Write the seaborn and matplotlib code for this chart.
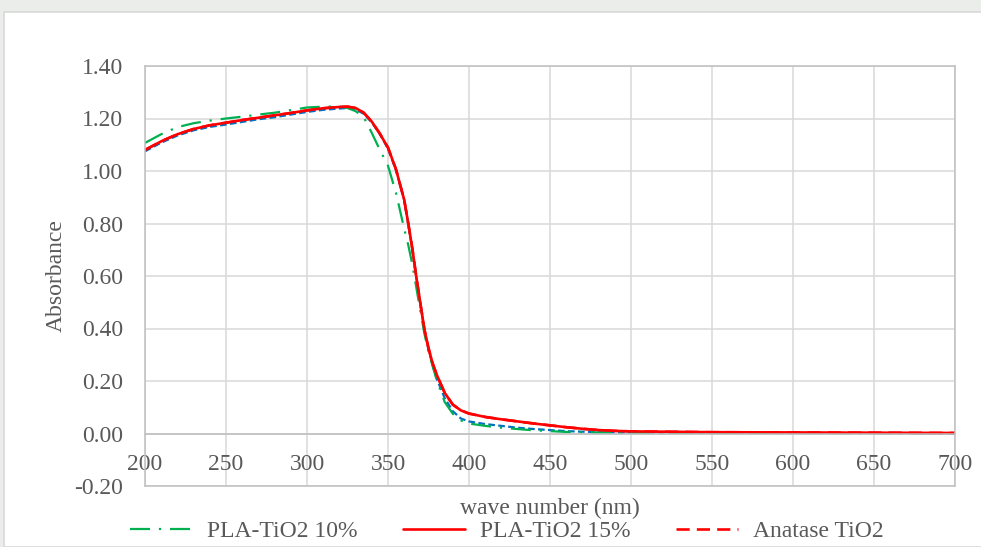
import pandas as pd
import matplotlib.pyplot as plt
import seaborn as sns
from matplotlib.patches import Rectangle
from matplotlib.lines import Line2D

# wavelength grid (nm) shared by all curves
wavelength = [200, 210, 220, 230, 240, 250, 260, 270, 280, 290, 300, 310, 320,
              325, 330, 335, 340, 345, 350, 355, 360,
              362.5, 365, 367.5, 370, 372.5, 375, 377.5, 380,
              385, 390, 395, 400,
              410, 420, 430, 440, 450, 460, 470, 480, 490, 500,
              550, 600, 650, 700]

pla_10 = [1.107, 1.140, 1.167, 1.182, 1.192, 1.200, 1.207, 1.215, 1.222, 1.232, 1.242, 1.245, 1.246,
          1.240, 1.228, 1.205, 1.145, 1.080, 1.020, 0.915, 0.780,
          0.718, 0.645, 0.555, 0.466, 0.380, 0.310, 0.258, 0.205,
          0.120, 0.075, 0.050, 0.038,
          0.029, 0.022, 0.017, 0.012, 0.009, 0.006, 0.005, 0.004, 0.003, 0.003,
          0.002, 0.002, 0.001, 0.001]

pla_15 = [1.080, 1.113, 1.140, 1.160, 1.174, 1.184, 1.194, 1.203, 1.212, 1.221, 1.231, 1.239, 1.244,
          1.245, 1.240, 1.222, 1.188, 1.142, 1.089, 1.005, 0.890,
          0.800, 0.705, 0.595, 0.495, 0.395, 0.325, 0.268, 0.225,
          0.155, 0.110, 0.088, 0.076,
          0.063, 0.054, 0.046, 0.038, 0.031, 0.024, 0.018, 0.013, 0.010, 0.008,
          0.005, 0.004, 0.003, 0.002]

anatase = [1.080, 1.113, 1.140, 1.160, 1.174, 1.184, 1.194, 1.203, 1.212, 1.221, 1.231, 1.239, 1.244,
           1.245, 1.240, 1.222, 1.188, 1.142, 1.089, 1.005, 0.890,
           0.800, 0.705, 0.595, 0.495, 0.395, 0.325, 0.268, 0.225,
           0.155, 0.110, 0.088, 0.076,
           0.063, 0.054, 0.046, 0.038, 0.031, 0.024, 0.018, 0.013, 0.010, 0.008,
           0.005, 0.004, 0.003, 0.002]

# fourth (blue dashed) curve, not shown in the legend
pla_5 = [1.075, 1.108, 1.135, 1.155, 1.168, 1.177, 1.187, 1.197, 1.205, 1.215, 1.225, 1.233, 1.238,
         1.240, 1.235, 1.218, 1.185, 1.140, 1.085, 1.002, 0.890,
         0.800, 0.700, 0.595, 0.490, 0.395, 0.320, 0.260, 0.210,
         0.135, 0.085, 0.057, 0.046,
         0.036, 0.029, 0.022, 0.017, 0.013, 0.009, 0.007, 0.005, 0.004, 0.004,
         0.003, 0.002, 0.002, 0.001]

x_ticks = [200, 250, 300, 350, 400, 450, 500, 550, 600, 650, 700]
y_ticks = [-0.2, 0.0, 0.2, 0.4, 0.6, 0.8, 1.0, 1.2, 1.4]

df = pd.DataFrame({'wavelength': wavelength, 'pla_10': pla_10, 'pla_15': pla_15,
                   'anatase': anatase, 'pla_5': pla_5})

sns.set_theme(style='white')
plt.rcParams['font.family'] = ['Liberation Serif', 'DejaVu Serif']
plt.rcParams['axes.unicode_minus'] = False

txt = '#595959'
fs = 17

fig = plt.figure(figsize=(9.81, 5.47), dpi=100, facecolor='#EBEDEB')
fig.patches.append(Rectangle((4 / 981, 0), 1, 1 - 12 / 547, transform=fig.transFigure,
                             facecolor='white', edgecolor='#D9D9D9', linewidth=1.2, zorder=-5))
ax = fig.add_axes([145 / 981, 1 - 486 / 547, 810 / 981, 420 / 547])
ax.set_facecolor('none')

lw = 1.6
red_dash = (5, 2.7)
green_dash = (9, 4, 1, 4)
sns.lineplot(data=df, x='wavelength', y='anatase', ax=ax, color='#FF0000', lw=1.9,
             estimator=None, sort=False)
sns.lineplot(data=df, x='wavelength', y='pla_5', ax=ax, color='#0070C0', lw=lw,
             estimator=None, sort=False)
sns.lineplot(data=df, x='wavelength', y='pla_10', ax=ax, color='#00B050', lw=lw,
             estimator=None, sort=False)
sns.lineplot(data=df, x='wavelength', y='pla_15', ax=ax, color='#FF0000', lw=1.9,
             estimator=None, sort=False)
lines = ax.get_lines()
lines[0].set_dashes(red_dash)
lines[1].set_dashes((3, 1.5))
lines[2].set_dashes(green_dash)

ax.set_xlim(200, 700)
ax.set_ylim(-0.2, 1.4)
ax.set_xticks(x_ticks)
ax.set_yticks(y_ticks)
ax.set_yticklabels([f'{v:.2f}' for v in y_ticks])
ax.grid(True, color='#D9D9D9', lw=1.1)
ax.set_axisbelow(True)
for s in ax.spines.values():
    s.set_color('#BFBFBF')
    s.set_linewidth(1.1)
# category axis crosses at zero, like the original
ax.spines['bottom'].set_position(('data', 0))
ax.axhline(-0.2, color='#BFBFBF', lw=1.1, clip_on=False, zorder=1)

ax.tick_params(axis='x', length=0, pad=15, labelsize=fs, labelcolor=txt)
ax.tick_params(axis='y', length=0, pad=16, labelsize=fs, labelcolor=txt)

ax.set_xlabel('wave number (nm)', fontsize=fs, color=txt, va='baseline')
ax.xaxis.set_label_coords(0.5, -0.067)
ax.set_ylabel('Absorbance', fontsize=fs, color=txt, va='center')
ax.yaxis.set_label_coords(-0.11, 0.5)

handles = [
    Line2D([], [], color='#00B050', lw=lw, dashes=green_dash),
    Line2D([], [], color='#FF0000', lw=1.9),
    Line2D([], [], color='#FF0000', lw=1.9, dashes=red_dash),
]
leg = fig.legend(handles, ['PLA-TiO2 10%', 'PLA-TiO2 15%', 'Anatase TiO2'],
                 loc='center', bbox_to_anchor=(507 / 981, 1 - 531 / 547), ncol=3,
                 frameon=False, fontsize=fs, handlelength=2.6, handletextpad=0.64,
                 columnspacing=1.95, borderpad=0, borderaxespad=0)
for t in leg.get_texts():
    t.set_color(txt)

fig.savefig('out.png', dpi=100, facecolor=fig.get_facecolor())
